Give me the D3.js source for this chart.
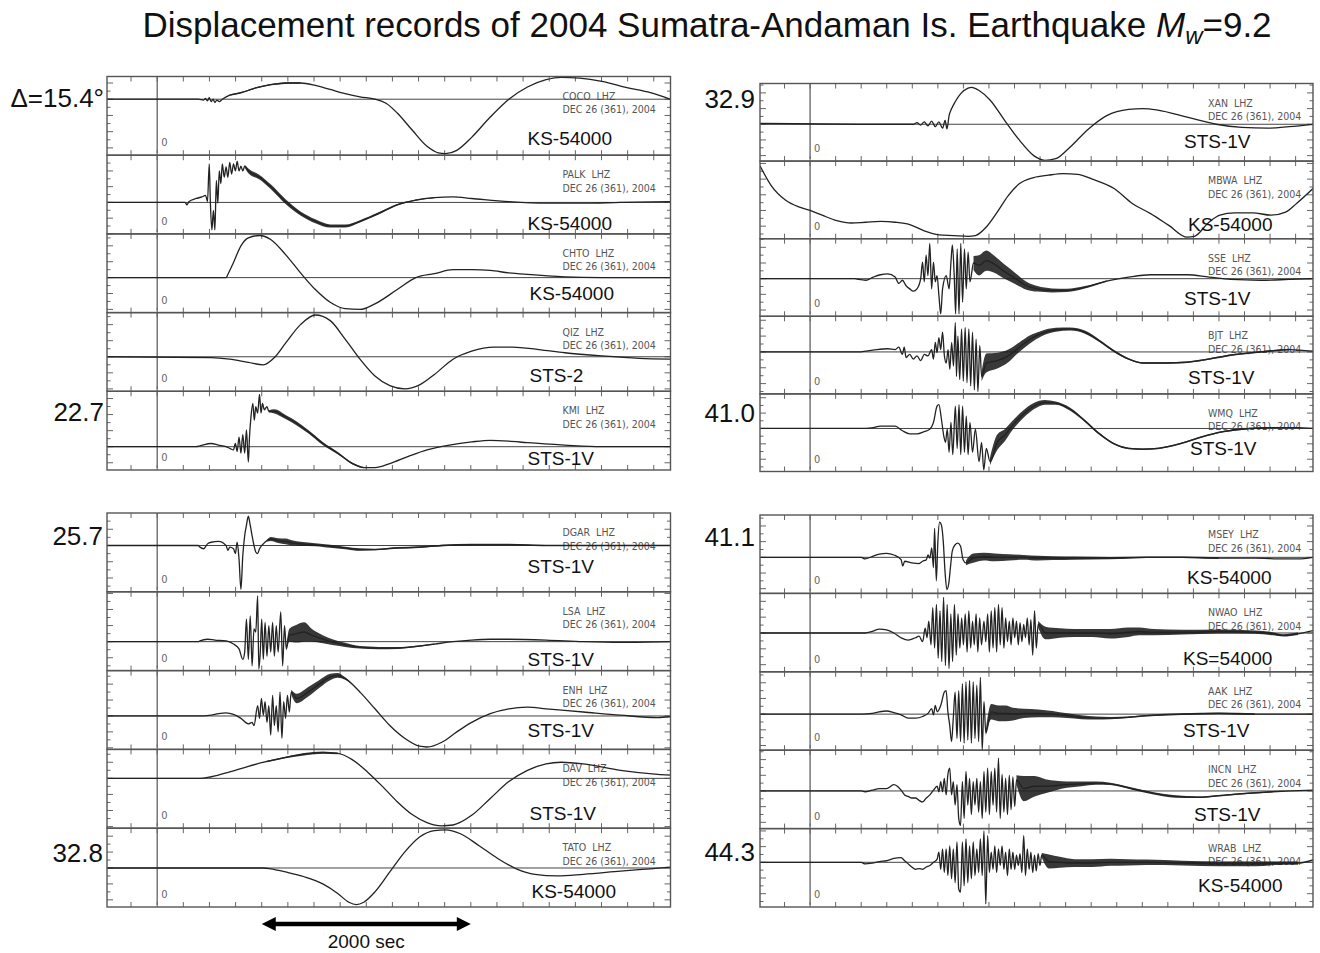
<!DOCTYPE html>
<html><head><meta charset="utf-8">
<script src="https://cdn.jsdelivr.net/npm/d3@7"></script>
<style>body{margin:0;background:#fff} svg{display:block}</style>
</head><body><svg id="c" width="1320" height="953"></svg>
<script>
// ---------------- DATA ----------------
// time (s after origin), displacement (arbitrary units, 0 = pre-event level), optional high-frequency envelope half-width
const stationsLT = ["COCO","PALK","CHTO","QIZ","KMI"];
const instrumentsLT = ["KS-54000","KS-54000","KS-54000","STS-2","STS-1V"];
const rangesLT = [[-69,28],[-40,60],[-44,55],[-43,55],[-29,69]];
const distancesLT = ["\u0394=15.4\u00B0","22.7"];

const stationsRT = ["XAN","MBWA","SSE","BJT","WMQ"];
const instrumentsRT = ["STS-1V","KS-54000","STS-1V","STS-1V","STS-1V"];
const rangesRT = [[-47,52],[-36,63],[-48,51],[-53,45],[-56,45]];
const distancesRT = ["32.9","41.0"];

const stationsLB = ["DGAR","LSA","ENH","DAV","TATO"];
const instrumentsLB = ["STS-1V","STS-1V","STS-1V","STS-1V","KS-54000"];
const rangesLB = [[-57,40],[-36,62],[-42,57],[-62,36],[-49,50]];
const distancesLB = ["25.7","32.8"];

const stationsRB = ["MSEY","NWAO","AAK","INCN","WRAB"];
const instrumentsRB = ["KS-54000","KS=54000","STS-1V","STS-1V","KS-54000"];
const rangesRB = [[-46,54],[-49,50],[-46,54],[-48,52],[-57,43]];
const distancesRB = ["41.1","44.3"];

const COCO = [[-480,0],[392,0],[445,-1],[463,1],[481,-2],[498,2],[516,-3],[534,0],[552,-4],[570,-1],[594,-3],[623,0],[694,5,0.8],[801,8,0.8],[943,14,0.8],[1086,18,0.8],[1264,20,0.8],[1371,20,0.8],[1513,17],[1655,12],[1798,7],[1940,3],[2083,0],[2189,-5],[2296,-17],[2439,-38],[2581,-58],[2688,-66],[2759,-67],[2866,-63],[3008,-47],[3186,-22],[3364,0],[3542,15],[3720,24],[3863,27],[4041,26],[4254,22],[4503,14],[4717,8],[4905,0]];
const PALK = [[-480,0],[267,0],[285,-3],[303,1],[374,5],[427,7],[463,9],[481,1],[498,49],[509,-1],[523,-35],[538,-10],[552,-35],[566,28],[580,-1],[594,40],[609,24],[623,49],[641,32],[659,45],[676,32],[694,51],[712,36],[730,49],[748,40],[765,52],[783,40],[801,46],[819,40],[837,46,2],[872,40,3],[979,32,3],[1086,20,3],[1228,1,3],[1371,-14,2.5],[1513,-24,2.5],[1655,-30,2],[1798,-30,2],[1940,-24,1.5],[2118,-14,1.5],[2296,-3,1],[2474,3,0.8],[2652,6,0.6],[2830,7],[3008,5],[3364,1],[3720,-1],[4076,-1],[4432,0],[4905,1]];
const CHTO = [[-480,0],[659,0],[676,4],[730,19],[801,40],[872,50],[979,53],[1086,48],[1228,29],[1371,6],[1513,-15],[1655,-31],[1798,-39],[1940,-40],[2083,-33],[2296,-15],[2474,0],[2652,5],[2830,10],[3008,10],[3186,9],[3364,6],[3542,4],[3898,1],[4254,0],[4905,0]];
const QIZ = [[-480,0],[516,-1],[694,-3],[872,-7],[1015,-10],[1121,-1],[1228,17],[1371,40],[1513,52],[1655,45],[1798,22],[1940,-3],[2083,-24],[2225,-36],[2367,-40],[2510,-35],[2652,-22],[2830,-3],[3008,7],[3222,12],[3400,12],[3649,9],[3898,5],[4254,1],[4610,-2],[4905,-3]];
const KMI = [[-480,0],[374,0],[409,1],[516,4],[587,2],[659,0],[694,-2],[730,-4],[748,4],[765,-6],[783,12],[801,-8],[819,15],[837,-8],[854,21],[872,-19],[883,12],[897,37],[915,54],[929,33],[943,50],[961,42],[979,65],[993,42],[1007,54],[1025,46],[1050,50],[1068,44,1.5],[1121,44,2.5],[1228,37,2.5],[1335,29,2.5],[1442,19,2],[1584,4,2],[1727,-8,1.5],[1869,-21,1],[1976,-26,0.7],[2083,-26],[2225,-21],[2403,-12],[2581,-4],[2795,2],[3008,6],[3186,8],[3364,7],[3542,5],[3898,2],[4254,0],[4905,0]];

const DGAR = [[-480,0],[392,0],[409,-2],[445,-4],[481,2],[516,4],[587,5],[659,0],[676,-6],[694,-2],[730,-4],[748,-10],[765,4],[783,-17],[801,-54],[819,-12],[837,12],[854,25],[872,36],[890,25],[908,12],[926,0],[943,-8],[961,-10],[979,-4],[1015,2],[1050,6,1],[1086,8,2.5],[1157,6,3],[1228,5,3.5],[1299,3,3],[1371,2,2.5],[1513,1,1.8],[1655,-1,1.8],[1798,-3,1.5],[1940,-5,1.5],[2083,-5,1],[2296,-3,1],[2510,-2,1],[2723,0,1],[3008,1,1],[3364,1,1],[3720,0,0.5],[4076,0],[4905,0]];
const LSA = [[-480,0],[392,0],[409,1],[481,3],[552,2],[659,1],[730,-3],[783,-9],[819,-22],[837,-13],[854,28],[872,-22],[890,32],[908,-30],[926,16],[943,12],[961,57],[972,-34],[986,-13],[1000,28],[1015,-22],[1032,24],[1050,-18],[1068,20],[1086,-13],[1104,24],[1121,-18],[1139,20],[1157,-13],[1182,37],[1200,-30],[1218,20],[1235,-9,3],[1264,8,8],[1335,10,11],[1406,12,12],[1477,8,8],[1584,3,5],[1691,-1,3.5],[1798,-4,2.5],[1940,-7,1.5],[2118,-8,1.5],[2296,-8,1.2],[2474,-6,1],[2652,-3,0.8],[2830,0],[3008,2],[3186,3],[3364,3],[3720,2],[4076,0],[4432,-1],[4905,0]];
const ENH = [[-480,0],[445,0],[516,1],[587,3],[659,4],[730,2],[801,-3],[872,-10],[908,-8],[926,-12],[961,13],[979,-3],[997,22],[1015,1],[1032,18],[1050,-8],[1068,13],[1086,-24],[1104,26],[1121,-12],[1139,13],[1157,-20],[1175,30],[1193,-28],[1210,18],[1228,-3],[1246,26],[1264,5],[1282,30,3],[1335,22,6],[1442,30,6],[1549,40,5],[1655,49,4],[1727,51,3],[1798,47,1.5],[1940,30,0.8],[2083,9],[2225,-12],[2367,-28],[2510,-38],[2581,-39],[2723,-33],[2866,-20],[3008,-8],[3186,3],[3364,9],[3542,11],[3720,9],[4076,5],[4432,1],[4788,-2],[4905,-1]];
const DAV = [[-480,0],[409,0],[516,2],[694,8],[872,15],[1050,21,1],[1228,26,1],[1406,30,1.5],[1584,32,1.5],[1727,31,1],[1869,23],[2011,8],[2154,-10],[2296,-29],[2439,-45],[2581,-55],[2723,-59],[2830,-58],[3008,-46],[3186,-25],[3364,-4],[3542,10],[3720,18],[3863,20],[4076,18],[4432,10],[4788,5],[4905,4]];
const TATO = [[-480,0],[1015,0],[1086,-1],[1228,-5],[1406,-11],[1584,-20],[1727,-32],[1833,-43],[1905,-46],[1976,-43],[2083,-30],[2225,-5],[2367,20],[2510,39],[2652,47],[2759,48],[2901,43],[3079,28],[3257,12],[3435,-1],[3613,-8],[3827,-10],[4076,-8],[4432,-4],[4717,-1],[4905,1]];

const XAN = [[-490,1],[475,0],[1010,0],[1046,2],[1082,-1],[1117,3],[1153,-2],[1189,4],[1225,-3],[1260,3],[1296,-5],[1321,5],[1339,-6],[1360,11],[1385,20],[1421,29],[1474,39],[1546,46],[1582,47],[1653,43],[1760,31],[1903,5],[2046,-20],[2188,-40],[2296,-46],[2403,-44],[2545,-29],[2724,-6],[2902,11],[3117,19],[3259,20],[3402,18],[3688,9],[3973,0],[4223,-4],[4473,-5],[4687,-3],[4920,0]];
const MBWA = [[-490,57],[-382,32],[-239,13],[-96,4],[0,0],[118,-6],[261,-13],[403,-16],[546,-15],[689,-14],[832,-15],[975,-18],[1117,-26],[1260,-31],[1403,-32],[1546,-33],[1617,-32],[1724,-21],[1831,-2],[1939,19],[2046,34],[2188,42],[2331,45],[2474,47],[2617,46],[2760,40],[2974,28],[3152,9],[3331,-4],[3509,-19],[3688,-34],[3759,-33],[3902,-15],[4009,-6],[4152,-3],[4330,-3],[4509,-6],[4652,-2],[4759,9],[4920,28]];
const SSE = [[-490,0],[439,0],[475,-1],[546,-2],[618,2],[689,5],[760,6],[832,2],[868,-6],[903,-2],[939,-9],[975,-13],[1010,-16],[1046,-13],[1082,0],[1100,21],[1117,-4],[1135,30],[1153,4],[1171,45],[1189,-13],[1207,21],[1225,-4],[1242,4],[1260,-21],[1278,-45],[1296,-13],[1332,4],[1360,-13],[1378,21],[1392,43],[1410,4],[1424,-45],[1439,38],[1457,-45],[1474,45],[1492,-30],[1510,38],[1528,-13],[1546,34],[1564,-4],[1599,20,9],[1653,17,13],[1724,23,13],[1796,19,11],[1903,9,9],[2010,0,7],[2117,-9,5],[2224,-13,3.5],[2367,-15,2.5],[2510,-15,2],[2688,-11,1.5],[2902,-3,1],[3117,2],[3331,5],[3509,5],[3688,5],[3902,2],[4116,-1],[4402,-2],[4687,-1],[4920,0]];
const BJT = [[-490,0],[475,0],[546,1],[653,3],[760,4],[832,3],[868,6],[903,-3],[921,6],[939,-7],[975,-3],[1010,-9],[1046,-5],[1082,-11],[1117,-3],[1153,-5],[1189,3],[1207,-9],[1225,12],[1242,-1],[1260,18],[1278,3],[1296,25],[1314,-5],[1332,-14],[1350,3],[1367,-22],[1385,12],[1403,-18],[1421,37],[1432,-31],[1446,20],[1464,-35],[1482,29],[1499,-37],[1517,31],[1535,-39],[1553,29],[1571,-43],[1589,25],[1607,-48],[1624,16],[1642,-50],[1660,8],[1678,-31,6],[1724,-14,12],[1831,-11,10],[1939,-5,8],[2046,6,6],[2153,16,5],[2260,23,3.5],[2403,28,2.5],[2545,29,2],[2688,25,2],[2831,14,1.5],[2974,1,1.5],[3117,-9,1],[3259,-14,1],[3474,-14,1],[3688,-13,1],[3902,-9,1],[4116,-4,1],[4402,0,1],[4687,3,1],[4920,1]];
const WMQ = [[-490,0],[475,0],[546,0],[618,1],[689,3],[760,3],[832,3],[903,-3],[975,-7],[1046,-7],[1117,-4],[1171,-1],[1207,8],[1242,29],[1260,31],[1285,12],[1307,-9],[1325,-18],[1342,-1],[1360,-31],[1378,8],[1396,-34],[1421,29],[1439,-26],[1457,31],[1474,-34],[1492,29],[1510,-31],[1528,16],[1546,-34],[1564,8],[1589,-31],[1617,-1],[1653,-43],[1678,-18],[1699,-54],[1724,-26],[1760,-43,5],[1831,-18,10],[1903,-9,8],[1974,3,6],[2081,18,5],[2188,29,4],[2296,34,3],[2403,33,2],[2545,25,2],[2688,10,1.5],[2831,-7,1.5],[2974,-20,1],[3117,-26,1],[3259,-27,1],[3402,-26,1],[3616,-20,1],[3831,-11,1],[4045,-4,1],[4223,-1,1],[4473,1,1],[4759,1],[4920,0]];

const MSEY = [[-490,0],[501,0],[537,-2],[607,1],[678,4],[748,5],[819,3],[890,-3],[907,-11],[925,-5],[995,-7],[1066,-8],[1101,-5],[1137,-3],[1154,3],[1172,-1],[1190,12],[1207,-13],[1218,37],[1235,-30],[1250,20],[1267,45],[1285,41],[1303,20],[1320,-18],[1338,-41],[1356,-34],[1373,-13],[1391,8],[1419,16],[1447,18],[1472,14],[1497,-3],[1525,-7,3],[1596,-1,6],[1701,1,5],[1807,0,5],[1949,0,4],[2090,0,3],[2231,-1,3],[2372,-1,2.5],[2584,-1,2],[2937,-1,1.5],[3290,0,1],[3643,0,1],[3996,-1,1],[4349,-1],[4631,-2],[4773,-2],[4920,0]];
const NWAO = [[-490,0],[501,0],[537,0],[607,2],[678,5],[748,4],[819,0],[890,-6],[960,-9],[1031,-6],[1066,-4],[1101,-11],[1126,6],[1144,-6],[1161,15],[1183,-15],[1200,32],[1218,-19],[1236,36],[1253,-32],[1271,28],[1288,-36],[1306,45],[1324,-41],[1341,36],[1359,-45],[1377,24],[1394,-36],[1412,36],[1430,-28],[1447,24],[1465,-19],[1483,19],[1500,-15],[1518,24],[1536,-24],[1553,28],[1571,-19],[1589,15],[1606,-15],[1624,24],[1641,-24],[1659,19],[1677,-15],[1701,15],[1719,-11],[1737,24],[1754,-24],[1772,28],[1790,-19],[1807,32],[1825,-24],[1843,36],[1860,-15],[1878,32],[1896,-19],[1913,19],[1931,-11],[1949,15],[1966,-15],[1984,19],[2002,-6],[2019,15],[2037,-15],[2054,13],[2072,-11],[2090,11],[2107,-6],[2125,19],[2143,-15],[2160,17],[2178,-28],[2196,28],[2213,-19],[2231,11,4],[2302,0,8],[2443,0,6],[2584,0,5],[2760,0,5],[2937,-1,6],[3113,1,6],[3219,2,5],[3361,1,4],[3643,1,3],[3996,2,2.5],[4349,1,2],[4525,-1,2],[4631,-3,1.5],[4773,-1,1.5],[4920,3]];
const AAK = [[-490,0],[501,0],[607,1],[678,3],[748,4],[819,2],[890,-1],[960,-5],[1031,-5],[1101,-3],[1154,1],[1190,7],[1207,-1],[1225,11],[1243,3],[1278,11],[1313,28],[1331,30],[1348,3],[1366,-14],[1384,-35],[1401,-5],[1419,28],[1437,-31],[1454,30],[1472,-35],[1490,39],[1507,-37],[1525,41],[1543,-33],[1560,43],[1578,-37],[1596,41],[1613,-31],[1631,37],[1649,-35],[1666,47],[1684,-46],[1701,16],[1719,-24,4],[1772,3,10],[1843,1,10],[1913,1,10],[1984,0,8],[2090,1,6],[2231,1,5],[2372,0,4],[2513,-2,3],[2655,-4,2.5],[2796,-5,2],[2937,-5,1.5],[3113,-4,1],[3290,-2,1],[3643,0,1],[3996,1,1],[4349,0,1],[4920,0]];
const INCN = [[-490,0],[501,0],[537,-1],[607,1],[678,3],[748,3],[819,8],[854,6],[890,1],[925,-5],[960,-7],[995,-9],[1031,-9],[1066,-12],[1101,-14],[1137,-9],[1172,-5],[1207,1],[1243,6],[1260,-1],[1278,12],[1296,-1],[1313,16],[1331,-5],[1348,21],[1366,29],[1384,-5],[1401,12],[1419,-18],[1437,8],[1454,-35],[1472,-44],[1490,12],[1507,-35],[1525,25],[1543,-18],[1560,16],[1578,-30],[1596,12],[1613,-18],[1631,16],[1649,-27],[1666,12],[1684,-35],[1701,25],[1719,-27],[1737,29],[1754,-30],[1772,25],[1790,-18],[1807,29],[1825,-27],[1843,42],[1860,-35],[1878,21],[1896,-27],[1913,16],[1931,-30],[1949,20],[1966,-24],[1984,18],[2002,-20],[2019,14,6],[2090,3,16],[2196,6,13],[2302,6,9],[2407,7,6],[2513,8,4],[2655,9,3],[2796,10,2],[2937,9,1.5],[3149,3,1.5],[3361,-3,1.5],[3572,-7,1.5],[3784,-8,1],[3996,-6,1],[4278,-3,1],[4525,-1,1],[4702,0],[4920,1]];
const WRAB = [[-490,0],[501,0],[537,-2],[607,-1],[678,1],[748,2],[819,5],[890,6],[925,2],[960,-2],[995,-6],[1031,-9],[1066,-8],[1101,-9],[1137,-6],[1172,-4],[1207,0],[1243,4],[1260,13],[1278,-9],[1296,17],[1313,-13],[1331,17],[1348,-17],[1366,21],[1384,-21],[1401,17],[1419,-26],[1437,26],[1454,-34],[1472,-38],[1490,26],[1507,-30],[1525,30],[1543,-26],[1560,21],[1578,-21],[1596,26],[1613,-17],[1631,17],[1649,-13],[1666,30],[1684,-17],[1701,40],[1719,-53],[1737,34],[1754,-13],[1772,13],[1790,-9],[1807,21],[1825,-13],[1843,17],[1860,-4],[1878,21],[1896,-9],[1913,13],[1931,-17],[1949,17],[1966,-9],[1984,13],[2002,-9],[2019,9],[2037,-4],[2054,11],[2072,-13],[2090,34],[2107,-17],[2125,17],[2143,-9],[2160,13],[2178,-13],[2196,9],[2213,-11],[2231,11],[2249,-4],[2266,9,3],[2337,1,9],[2443,0,7],[2584,-1,5],[2760,-1,5],[2937,0,4.5],[3113,0,4],[3290,0,3.5],[3643,-1,3],[3996,-2,3],[4349,-2,3],[4631,-1,2],[4773,-1,2],[4920,3]];

const traceByStation = {COCO,PALK,CHTO,QIZ,KMI,DGAR,LSA,ENH,DAV,TATO,XAN,MBWA,SSE,BJT,WMQ,MSEY,NWAO,AAK,INCN,WRAB};
const noBaseline = ["MBWA"];
const timeTickStep = 250;
const scaleBarSeconds = [1000, 3000];

// ---------------- LAYOUT ----------------
const layout = [
  {stations:stationsLT, inst:instrumentsLT, ranges:rangesLT, dist:distancesLT, x0:107, x1:670.5, y0:76.5, y1:470, tDom:[-480,4910], distX:104, distDy:[30,30],
   labDx:[-143,-143,-141,-141,-143], labDy:[-10,-4,-13,-9,-5], infoDx:-108},
  {stations:stationsRT, inst:instrumentsRT, ranges:rangesRT, dist:distancesRT, x0:760, x1:1313, y0:83.5, y1:471.5, tDom:[-490,4920], distX:755, distDy:[24,28],
   labDx:[-129,-125,-129,-125,-123], labDy:[-13,-8,-11,-10,-17], infoDx:-105},
  {stations:stationsLB, inst:instrumentsLB, ranges:rangesLB, dist:distancesLB, x0:107, x1:670.5, y0:513, y1:907, tDom:[-480,4910], distX:103, distDy:[32,34],
   labDx:[-143,-143,-143,-141,-139], labDy:[-19,-5,-12,-8,-9], infoDx:-108},
  {stations:stationsRB, inst:instrumentsRB, ranges:rangesRB, dist:distancesRB, x0:760, x1:1313, y0:515, y1:907, tDom:[-490,4920], distX:755, distDy:[31,32],
   labDx:[-126,-130,-130,-119,-115], labDy:[-9,-7,-13,-8,-15], infoDx:-105}
];

const svg = d3.select("#c");
const defs = svg.append("defs");
const sansBig = "'Liberation Sans', Arial, Helvetica, sans-serif";
const cond = "'DejaVu Sans Condensed', 'DejaVu Sans', sans-serif";

// title
const title = svg.append("text").attr("x", 707).attr("y", 37).attr("text-anchor", "middle")
  .attr("font-family", sansBig).attr("font-size", 35).attr("fill", "#111");
title.append("tspan").text("Displacement records of 2004 Sumatra-Andaman Is. Earthquake ");
title.append("tspan").attr("font-style", "italic").text("M");
title.append("tspan").attr("font-style", "italic").attr("font-size", 24).attr("dy", 7).text("w");
title.append("tspan").attr("dy", -7).text("=9.2");

let clipId = 0;
layout.forEach((g) => {
  const x = d3.scaleLinear().domain(g.tDom).range([g.x0, g.x1]);
  const ph = (g.y1 - g.y0) / g.stations.length;
  const ticksT = d3.range(Math.ceil(g.tDom[0] / timeTickStep) * timeTickStep, g.tDom[1], timeTickStep);

  g.stations.forEach((st, i) => {
    const top = g.y0 + i * ph, bot = top + ph;
    const y = d3.scaleLinear().domain(g.ranges[i]).range([bot, top]);
    const pg = svg.append("g");
    const cid = "clip" + (clipId++);
    defs.append("clipPath").attr("id", cid).append("rect")
      .attr("x", g.x0).attr("y", top).attr("width", g.x1 - g.x0).attr("height", ph);

    // zero-time line
    pg.append("line").attr("x1", x(0)).attr("x2", x(0)).attr("y1", top).attr("y2", bot - 2)
      .attr("stroke", "#555").attr("stroke-width", 1.2);
    pg.append("text").attr("x", x(0) + 4).attr("y", bot - 9).attr("font-family", cond)
      .attr("font-size", 11).attr("fill", "#666").attr("font-stretch", "condensed").text("0");

    // time ticks top & bottom
    ticksT.forEach(t => {
      pg.append("line").attr("x1", x(t)).attr("x2", x(t)).attr("y1", top).attr("y2", top + 5)
        .attr("stroke", "#666").attr("stroke-width", 1);
      pg.append("line").attr("x1", x(t)).attr("x2", x(t)).attr("y1", bot).attr("y2", bot - 5)
        .attr("stroke", "#666").attr("stroke-width", 1);
    });
    // amplitude ticks left & right
    const ay = d3.range(Math.ceil(g.ranges[i][0] / 10) * 10, g.ranges[i][1], 10);
    ay.forEach(v => {
      const len = (v % 20 === 0) ? 6 : 3.5;
      pg.append("line").attr("x1", g.x0).attr("x2", g.x0 + len).attr("y1", y(v)).attr("y2", y(v))
        .attr("stroke", "#666").attr("stroke-width", 1);
      pg.append("line").attr("x1", g.x1).attr("x2", g.x1 - len).attr("y1", y(v)).attr("y2", y(v))
        .attr("stroke", "#666").attr("stroke-width", 1);
    });

    // station info
    const info = pg.append("text").attr("font-family", cond).attr("font-size", 10.5)
      .attr("font-stretch", "condensed").attr("fill", "#555").style("white-space", "pre");
    info.append("tspan").attr("x", g.x1 + g.infoDx).attr("y", top + 23).text(st + "  LHZ");
    info.append("tspan").attr("x", g.x1 + g.infoDx).attr("y", top + 36.5).text("DEC 26 (361), 2004");

    const cg = pg.append("g").attr("clip-path", `url(#${cid})`);
    // baseline
    if (!noBaseline.includes(st)) {
      cg.append("line").attr("x1", g.x0).attr("x2", g.x1).attr("y1", y(0)).attr("y2", y(0))
        .attr("stroke", "#444").attr("stroke-width", 1);
    }
    const data = traceByStation[st];
    const band = d3.area().defined(d => d.length > 2 && d[2] > 0)
      .x(d => x(d[0])).y0(d => y(d[1] - d[2])).y1(d => y(d[1] + d[2])).curve(d3.curveMonotoneX);
    cg.append("path").attr("d", band(data)).attr("fill", "#1c1c1c").attr("fill-opacity", 0.88);
    const line = d3.line().x(d => x(d[0])).y(d => y(d[1])).curve(d3.curveMonotoneX);
    cg.append("path").attr("d", line(data)).attr("fill", "none").attr("stroke", "#222")
      .attr("stroke-width", 1.3).attr("stroke-linejoin", "round");

    // instrument label
    pg.append("text").attr("x", g.x1 + g.labDx[i]).attr("y", bot + g.labDy[i])
      .attr("font-family", sansBig).attr("font-size", 19).attr("fill", "#111").text(g.inst[i]);

    // frame
    pg.append("rect").attr("x", g.x0).attr("y", top).attr("width", g.x1 - g.x0).attr("height", ph)
      .attr("fill", "none").attr("stroke", "#555").attr("stroke-width", 1.4);
  });

  // distance labels
  const lastTop = g.y0 + (g.stations.length - 1) * ph;
  svg.append("text").attr("x", g.distX).attr("y", g.y0 + g.distDy[0]).attr("text-anchor", "end")
    .attr("font-family", sansBig).attr("font-size", 26).attr("fill", "#111").text(g.dist[0]);
  svg.append("text").attr("x", g.distX).attr("y", lastTop + g.distDy[1]).attr("text-anchor", "end")
    .attr("font-family", sansBig).attr("font-size", 26).attr("fill", "#111").text(g.dist[1]);
});

// 2000 s scale bar (left column time axis)
const xs = d3.scaleLinear().domain(layout[2].tDom).range([layout[2].x0, layout[2].x1]);
const ax0 = xs(scaleBarSeconds[0]), ax1 = xs(scaleBarSeconds[1]), ayy = 924;
svg.append("line").attr("x1", ax0 + 8).attr("x2", ax1 - 8).attr("y1", ayy).attr("y2", ayy)
  .attr("stroke", "#000").attr("stroke-width", 4.5);
svg.append("path").attr("d", `M${ax0},${ayy} L${ax0 + 14},${ayy - 7} L${ax0 + 14},${ayy + 7} Z`).attr("fill", "#000");
svg.append("path").attr("d", `M${ax1},${ayy} L${ax1 - 14},${ayy - 7} L${ax1 - 14},${ayy + 7} Z`).attr("fill", "#000");
svg.append("text").attr("x", xs((scaleBarSeconds[0] + scaleBarSeconds[1]) / 2)).attr("y", 948)
  .attr("text-anchor", "middle").attr("font-family", sansBig).attr("font-size", 19).attr("fill", "#111")
  .text((scaleBarSeconds[1] - scaleBarSeconds[0]) + " sec");
</script></body></html>
